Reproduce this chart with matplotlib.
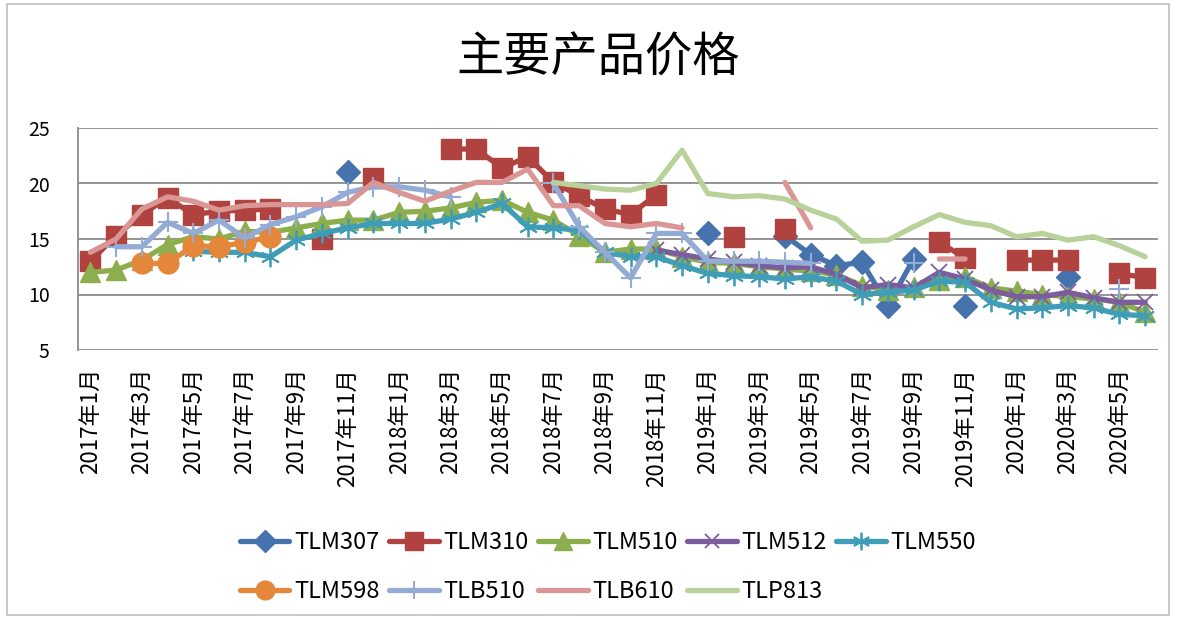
import numpy as np
import matplotlib
matplotlib.use("Agg")
import matplotlib.pyplot as plt
from matplotlib.patches import Rectangle

plt.rcParams['font.family'] = ['Noto Sans CJK SC', 'DejaVu Sans']

nan = np.nan
months = [f"{y}年{m}月" for y in (2017, 2018, 2019, 2020) for m in range(1, 13)][:42]

TLM307 = [nan]*10 + [21.0] + [nan]*13 + [15.5, nan, nan, 15.3, 13.6, 12.6, 12.9, 9.0, 13.2, nan, 9.0,
          nan, nan, nan, 11.6, nan, nan, nan]
TLM310 = [13.0, 15.3, 17.2, 18.7, 17.2, 17.5, 17.6, 17.7, nan, 15.0, nan, 20.5, nan, nan,
          23.1, 23.1, 21.4, 22.4, 20.1, 18.9, 17.7, 17.2, 19.0, nan, nan, 15.2, nan, 15.9,
          nan, nan, nan, nan, nan, 14.7, 13.3, nan, 13.1, 13.1, 13.1, nan, 11.9, 11.5]
TLM510 = [12.0, 12.2, 13.1, 14.5, 15.2, 15.0, 15.7, 15.6, 16.0, 16.4, 16.7, 16.7, 17.4, 17.5,
          17.8, 18.3, 18.5, 17.4, 16.7, 15.3, 13.8, 14.1, 14.1, 13.4, 12.9, 12.8, 12.5, 12.3,
          12.1, 11.8, 10.8, 10.4, 10.7, 11.3, 11.6, 10.6, 10.3, 10.0, 9.8, 9.6, 9.3, 8.4]
TLM512 = [nan]*22 + [14.0, 13.6, 13.2, 12.9, 12.6, 12.4, 12.5, 11.8, 10.6, 10.9, 10.6, 12.0,
                     11.4, 10.4, 9.8, 9.8, 10.2, 9.7, 9.3, 9.3]
TLM550 = [nan]*4 + [13.9, 13.8, 13.8, 13.4, 14.9, 15.5, 16.0, 16.4, 16.4, 16.4, 16.8, 17.4,
                    18.2, 16.1, 16.0, 15.8, 13.8, 13.4, 13.4, 12.6, 11.9, 11.7, 11.6, 11.4,
                    11.6, 11.2, 10.0, 10.2, 10.4, 11.2, 11.1, 9.3, 8.7, 8.8, 9.0, 8.8, 8.2, 8.1]
TLM598 = [nan, nan, 12.8, 12.8, 14.4, 14.3, 14.7, 15.2] + [nan]*34
TLB510 = [nan, 14.3, 14.3, 16.5, 15.5, 16.7, 15.1, 16.3, 17.0, 17.9, 19.2, 19.7, 19.7, 19.4,
          18.8, nan, nan, nan, 20.0, 16.1, 13.8, 11.5, 15.5, 15.5, 13.0, 13.0, 13.0, 12.9,
          12.8, nan, nan, nan, 12.8, nan, nan, nan, nan, nan, nan, nan, 10.5, nan]
TLB610 = [13.8, 15.0, 17.7, 18.8, 18.4, 17.6, 18.0, 18.1, 18.1, 18.1, 18.2, 20.1, 19.2, 18.4,
          19.3, 20.1, 20.1, 21.3, 18.0, 18.0, 16.4, 16.1, 16.4, 16.0, nan, nan, nan, 20.1,
          16.0, nan, nan, nan, nan, 13.2, 13.2, nan, nan, nan, 13.3, nan, nan, nan]
TLP813 = [nan]*18 + [20.1, 19.8, 19.5, 19.4, 20.0, 23.0, 19.1, 18.8, 18.9, 18.6, 17.6, 16.8,
                     14.8, 14.9, 16.1, 17.2, 16.5, 16.2, 15.2, 15.5, 14.9, 15.2, 14.4, 13.4]

series = [
    ("TLM307", TLM307, "#4672AE", dict(marker="D", ms=12)),
    ("TLM310", TLM310, "#B0433F", dict(marker="s", ms=14)),
    ("TLM510", TLM510, "#8CAE4C", dict(marker="^", ms=14)),
    ("TLM512", TLM512, "#7B5C9C", dict(marker="x", ms=11, mew=1.3)),
    ("TLM550", TLM550, "#3F9DB7", dict(marker=(6, 2, 0), ms=14, mew=1.3)),
    ("TLM598", TLM598, "#E5873A", dict(marker="o", ms=15)),
    ("TLB510", TLB510, "#93ABD5", dict(marker="+", ms=14, mew=1.5)),
    ("TLB610", TLB610, "#D99694", dict(marker=None)),
    ("TLP813", TLP813, "#B9D29A", dict(marker=None)),
]

fig = plt.figure(figsize=(11.77, 6.19), dpi=100)
ax = fig.add_axes([77.5/1177, 1-350/619, (1158-77.5)/1177, (350-128)/619])

x = np.arange(len(months))
handles = []
for name, vals, col, mk in series:
    ln, = ax.plot(x, vals, color=col, lw=3.8, solid_joinstyle="round",
                  solid_capstyle="round", markeredgecolor=col, markerfacecolor=col,
                  label=name, **mk)
    handles.append(ln)

ax.set_xlim(-0.5, len(months) - 0.5)
ax.set_ylim(5, 25)
ax.set_yticks([5, 10, 15, 20, 25])
ax.yaxis.grid(True, color="#8C8C8C", lw=1.3)
ax.set_axisbelow(True)
ax.set_xticks(x[::2])
ax.set_xticklabels(months[::2], rotation=90, fontsize=16)
ax.tick_params(axis="y", length=0, pad=20, labelsize=14)
ax.tick_params(axis="x", length=0, pad=13)
for s in ("top", "right", "bottom"):
    ax.spines[s].set_visible(False)
ax.spines["left"].set_color("#8C8C8C")
ax.spines["left"].set_linewidth(1.3)

fig.text(598/1177, 1-58/619, "主要产品价格", ha="center", va="center", fontsize=34)

order = [0, 5, 1, 6, 2, 7, 3, 8, 4]
fig.legend([handles[i] for i in order], [series[i][0] for i in order], ncol=5,
           loc="center", bbox_to_anchor=(608/1177, 1-567/619), frameon=False, fontsize=17,
           handlelength=2.1, handletextpad=0.2, columnspacing=0.4, labelspacing=1.1,
           markerscale=0.9)

fig.patches.append(Rectangle((7/1177, 4/619), 1162/1177, 611/619, transform=fig.transFigure,
                             fill=False, edgecolor="#BFBFBF", lw=1.2))

fig.savefig("out.png", dpi=100)
